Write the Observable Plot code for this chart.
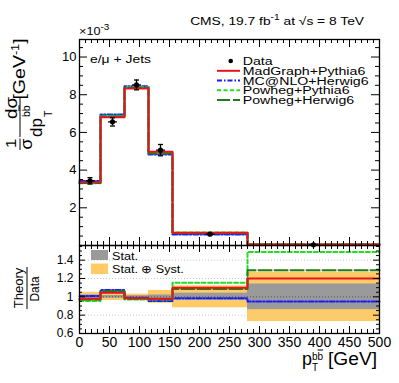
<!DOCTYPE html>
<html><head><meta charset="utf-8">
<script src="https://cdn.jsdelivr.net/npm/d3@7"></script>
<script src="https://cdn.jsdelivr.net/npm/@observablehq/plot@0.6"></script>
<style>
body{margin:0;background:#fff;}
#wrap{position:relative;width:399px;height:383px;overflow:hidden;font-family:"Liberation Sans",Arial,sans-serif;}
#wrap > *{position:absolute;left:0;}
</style></head><body><div id="wrap"></div>
<script>
// ---- data ----
const binEdges = [0, 35, 75, 115, 155, 280, 500];
const binCenters = [17.5, 55, 95, 135, 217.5, 390];
const dataValues = [3.43, 6.56, 8.52, 5.06, 0.60, 0.04];
const dataErrors = [0.17, 0.22, 0.26, 0.30, 0.03, 0.01];
const madgraphPythia = [3.35, 6.80, 8.33, 4.97, 0.67, 0.05];
const mcatnloHerwig = [3.42, 6.95, 8.45, 4.83, 0.58, 0.04];
const powhegPythia = [3.30, 6.88, 8.40, 4.90, 0.69, 0.06];
const powhegHerwig = [3.32, 6.85, 8.36, 4.90, 0.65, 0.05];
const ratioMadgraphPythia = [0.98, 1.045, 0.985, 0.98, 1.10, 1.20];
const ratioMcatnloHerwig = [1.01, 1.075, 0.99, 0.955, 0.985, 0.95];
const ratioPowhegPythia = [0.955, 1.055, 0.97, 0.97, 1.155, 1.49];
const ratioPowhegHerwig = [0.97, 1.06, 0.98, 0.975, 1.085, 1.29];
const statErr = [0.02, 0.015, 0.012, 0.02, 0.04, 0.14];
const totalErr = [0.05, 0.04, 0.03, 0.07, 0.12, 0.27];
const seriesNames = ["MadGraph+Pythia6", "MC@NLO+Herwig6", "Powheg+Pythia6", "Powheg+Herwig6"];
const xMajorTicks = [0, 50, 100, 150, 200, 250, 300, 350, 400, 450, 500];
const xMinorTicks = d3.range(10, 500, 10).filter(v => v % 50 !== 0);
const yTopMajorTicks = [0, 2, 4, 6, 8, 10];
const yTopLabels = [2, 4, 6, 8, 10];
const yTopMinorTicks = d3.range(0.5, 10.9, 0.5).filter(v => v % 2 !== 0);
const yRatioMajorTicks = [0.6, 0.8, 1.0, 1.2, 1.4];
const yRatioMinorTicks = d3.range(13, 32).map(v => v * 0.05).filter(v => Math.abs(v * 5 - Math.round(v * 5)) > 1e-6);
const ratioGrid = [0.8, 1.2, 1.4];

// ---- styles ----
const styles = {
  "MadGraph+Pythia6": {color: "#e8131b", dash: null},
  "MC@NLO+Herwig6": {color: "#1a1aff", dash: "5,2,1.5,2"},
  "Powheg+Pythia6": {color: "#22dd22", dash: "4,2.5"},
  "Powheg+Herwig6": {color: "#1e7b1e", dash: "13,3"}
};
const topValues = {"MadGraph+Pythia6": madgraphPythia, "MC@NLO+Herwig6": mcatnloHerwig, "Powheg+Pythia6": powhegPythia, "Powheg+Herwig6": powhegHerwig};
const ratioValues = {"MadGraph+Pythia6": ratioMadgraphPythia, "MC@NLO+Herwig6": ratioMcatnloHerwig, "Powheg+Pythia6": ratioPowhegPythia, "Powheg+Herwig6": ratioPowhegHerwig};
const drawOrder = ["MC@NLO+Herwig6", "Powheg+Pythia6", "Powheg+Herwig6", "MadGraph+Pythia6"];

function steps(values) {
  const pts = values.map((v, i) => ({x: binEdges[i], y: v}));
  pts.push({x: binEdges[binEdges.length - 1], y: values[values.length - 1]});
  return pts;
}
const dataPts = dataValues.map((v, i) => ({x: binCenters[i], y: v, e: dataErrors[i]}));
const bins = statErr.map((s, i) => ({x1: binEdges[i], x2: binEdges[i + 1], s, t: totalErr[i]}));

const hbar = {draw(ctx, size) { const w = Math.sqrt(size / Math.PI); ctx.moveTo(-w, 0); ctx.lineTo(w, 0); }};

const FW = 300, FH_TOP = 206, FH_R = 88;
function tickMarks(xMaj, xMin, yMaj, yMin, fw, fh, lx, sx, ly, sy) {
  return [
    Plot.tickX(xMaj, {x: d => d, insetTop: fh - lx, stroke: "black"}),
    Plot.tickX(xMin, {x: d => d, insetTop: fh - sx, stroke: "black"}),
    Plot.tickX(xMaj, {x: d => d, insetBottom: fh - lx, stroke: "black"}),
    Plot.tickX(xMin, {x: d => d, insetBottom: fh - sx, stroke: "black"}),
    Plot.tickY(yMaj, {y: d => d, insetRight: fw - ly, stroke: "black"}),
    Plot.tickY(yMin, {y: d => d, insetRight: fw - sy, stroke: "black"}),
    Plot.tickY(yMaj, {y: d => d, insetLeft: fw - ly, stroke: "black"}),
    Plot.tickY(yMin, {y: d => d, insetLeft: fw - sy, stroke: "black"})
  ];
}

const topPlot = Plot.plot({
  width: 399, height: 246, marginLeft: 79, marginRight: 20, marginTop: 39, marginBottom: 1,
  style: {background: "transparent", overflow: "visible", fontFamily: "Liberation Sans, Arial, sans-serif"},
  x: {domain: [0, 500], axis: null},
  y: {domain: [0, 10.93], label: null},
  marks: [
    ...drawOrder.map(n => Plot.line(steps(topValues[n]), {x: "x", y: "y", curve: "step-after", stroke: styles[n].color, strokeWidth: 2, strokeDasharray: styles[n].dash})),
    Plot.ruleX(dataPts, {x: "x", y1: d => d.y - d.e, y2: d => d.y + d.e, stroke: "black", strokeWidth: 1.3}),
    Plot.dot(dataPts, {x: "x", y: "y", symbol: hbar, r: 4.5, stroke: "black", strokeWidth: 1.3}),
    Plot.dot(dataPts, {x: "x", y: d => d.y + d.e, symbol: hbar, r: 2.5, stroke: "black", strokeWidth: 1.3}),
    Plot.dot(dataPts, {x: "x", y: d => d.y - d.e, symbol: hbar, r: 2.5, stroke: "black", strokeWidth: 1.3}),
    Plot.dot(dataPts, {x: "x", y: "y", r: 2.6, fill: "black"}),
    ...tickMarks(xMajorTicks, xMinorTicks, yTopMajorTicks, yTopMinorTicks, FW, FH_TOP, 8, 4, 8, 4),
    Plot.axisY({ticks: yTopLabels, tickSize: 0, tickPadding: 3, fontSize: 13, label: null}),
    Plot.frame({stroke: "black", strokeWidth: 1.3})
  ]
});

const ratioPlot = Plot.plot({
  width: 399, height: 139, marginLeft: 79, marginRight: 20, marginTop: 1, marginBottom: 50,
  style: {background: "transparent", overflow: "visible", fontFamily: "Liberation Sans, Arial, sans-serif"},
  x: {domain: [0, 500], label: null},
  y: {domain: [0.6, 1.56], label: null},
  marks: [
    Plot.rect(bins, {x1: "x1", x2: "x2", y1: d => 1 - d.t, y2: d => 1 + d.t, fill: "#fecb66"}),
    Plot.rect(bins, {x1: "x1", x2: "x2", y1: d => 1 - d.s, y2: d => 1 + d.s, fill: "#9a9a9a"}),
    Plot.ruleY(ratioGrid, {stroke: "#c8c8c8", strokeDasharray: "1,2"}),
    Plot.ruleY([1], {stroke: "#555", strokeDasharray: "1,2"}),
    ...drawOrder.map(n => Plot.line(steps(ratioValues[n]), {x: "x", y: "y", curve: "step-after", stroke: styles[n].color, strokeWidth: 2, strokeDasharray: styles[n].dash})),
    ...tickMarks(xMajorTicks, xMinorTicks, yRatioMajorTicks, yRatioMinorTicks, FW, FH_R, 7, 4, 6, 3),
    Plot.axisY({ticks: yRatioMajorTicks, tickSize: 0, tickPadding: 6, fontSize: 12, label: null, tickFormat: d => d3.format("~g")(d)}),
    Plot.axisX({ticks: xMajorTicks, tickSize: 0, tickPadding: 4, fontSize: 14, label: null}),
    Plot.frame({stroke: "black", strokeWidth: 1.3})
  ]
});

const wrap = document.getElementById("wrap");
topPlot.style.top = "0px";
ratioPlot.style.top = "244px";
wrap.appendChild(topPlot);
wrap.appendChild(ratioPlot);

// ---- overlay: titles, labels, legends ----
const NS = "http://www.w3.org/2000/svg";
const ov = document.createElementNS(NS, "svg");
ov.setAttribute("width", 399); ov.setAttribute("height", 383);
ov.style.top = "0px";
ov.style.fontFamily = "Liberation Sans, Arial, sans-serif";
wrap.appendChild(ov);
function el(tag, attrs) { const e = document.createElementNS(NS, tag); for (const k in attrs) e.setAttribute(k, attrs[k]); ov.appendChild(e); return e; }
function htext(x, y, html, fs, sx = 1, anchor = "start") {
  const t = el("text", {transform: `translate(${x},${y}) scale(${sx},1)`, "font-size": fs, "text-anchor": anchor, fill: "black"});
  t.innerHTML = html; return t;
}
function rtext(x, y, html, fs, sx = 1, anchor = "middle") {
  const t = el("text", {transform: `translate(${x},${y}) rotate(-90) scale(${sx},1)`, "font-size": fs, "text-anchor": anchor, fill: "black"});
  t.innerHTML = html; return t;
}
const ob = '<tspan style="text-decoration:overline">b</tspan>';

htext(364, 25, 'CMS, 19.7 fb<tspan dy="-5" font-size="8.5">-1</tspan><tspan dy="5"> at </tspan>√s = 8 TeV', 11.5, 1.2, "end");
htext(79, 35, '×10<tspan dy="-5" font-size="9">-3</tspan>', 11.5, 1.1);
htext(90, 63, 'e/μ + Jets', 11.6, 1.2);

// legend
const legY = [65, 74.8, 84.5, 94.3, 104];
el("circle", {cx: 230.7, cy: legY[0] - 4, r: 2.3, fill: "black"});
htext(242.7, legY[0], "Data", 11, 1.29);
seriesNames.forEach((n, i) => {
  const y = legY[i + 1] - 4;
  const ln = el("line", {x1: 217, x2: 240, y1: y, y2: y, stroke: styles[n].color, "stroke-width": 2});
  if (styles[n].dash) ln.setAttribute("stroke-dasharray", styles[n].dash);
  htext(242.7, legY[i + 1], n, 11, 1.29);
});

// ratio legend
el("rect", {x: 91, y: 250, width: 17, height: 10, fill: "#9a9a9a"});
el("rect", {x: 91, y: 263.5, width: 17, height: 10.5, fill: "#fecb66"});
htext(112, 259.5, "Stat.", 10.7, 1.18);
htext(112, 273, "Stat. ⊕ Syst.", 10.7, 1.18);

// top y title (rotated; local x = -screenY, local y = screenX)
rtext(16, 143.5, "1", 15, 1.1);
el("line", {x1: 20, x2: 20, y1: 138.5, y2: 150, stroke: "black", "stroke-width": 1});
rtext(32, 144, "σ", 16, 1.1);
rtext(17, 108, "dσ", 17, 1.1);
el("line", {x1: 20, x2: 20, y1: 98, y2: 137, stroke: "black", "stroke-width": 1});
{
  const t = el("text", {transform: "rotate(-90)", "font-size": 17, fill: "black"});
  t.innerHTML = '<tspan x="-137" y="42">dp</tspan>' +
    '<tspan x="-117" y="29.5" font-size="10.5">b' + '</tspan>' + ob.replace('<tspan', '<tspan font-size="10.5"') +
    '<tspan x="-117" y="52" font-size="10.5">T</tspan>';
}
rtext(25, 69, '[GeV<tspan dy="-6" font-size="11">-1</tspan><tspan dy="6">]</tspan>', 17, 1.15);

// ratio y title
rtext(23, 288, "Theory", 13.5, 0.97);
el("line", {x1: 27, x2: 27, y1: 267, y2: 309, stroke: "black", "stroke-width": 1});
rtext(38.5, 289, "Data", 13.5, 0.88);

// x title (single text element)
{
  const t = el("text", {"font-size": 18, fill: "black"});
  t.innerHTML = '<tspan x="302" y="365">p</tspan>' +
    '<tspan x="312" y="359.5" font-size="10">b</tspan>' + ob.replace('<tspan', '<tspan font-size="10"') +
    '<tspan x="312" y="371" font-size="10">T</tspan>' +
    '<tspan x="328" y="365" textLength="49" lengthAdjust="spacingAndGlyphs">[GeV]</tspan>';
}
</script></body></html>
